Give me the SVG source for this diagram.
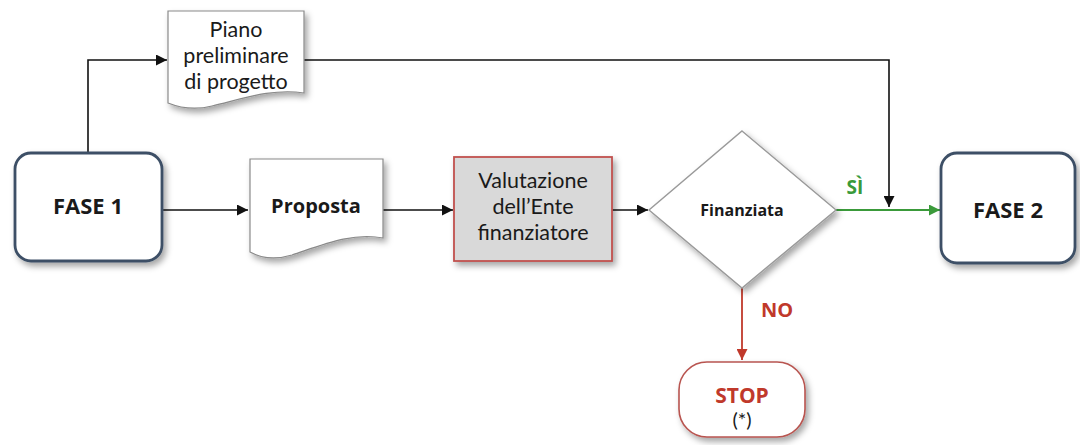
<svg xmlns="http://www.w3.org/2000/svg" width="1080" height="445" viewBox="0 0 1080 445">
<style>
.t{font-family:"Open Sans","Liberation Sans",sans-serif;text-anchor:middle;fill:#1a1a1a}
.r{font-family:Lato,"Open Sans","Liberation Sans",sans-serif;font-size:21.5px}
.b{font-weight:bold}
.c{fill:none;stroke:#111;stroke-width:1.6}
</style>
<defs>
<filter id="sh" x="-20%" y="-20%" width="150%" height="150%">
<feDropShadow dx="3" dy="4" stdDeviation="3" flood-color="#000" flood-opacity="0.35"/>
</filter>
<marker id="ak" viewBox="0 0 10 10" refX="10" refY="5" markerWidth="11" markerHeight="11" markerUnits="userSpaceOnUse" orient="auto">
<path d="M0,0 L10,5 L0,10 Z" fill="#111"/>
</marker>
<marker id="ag" viewBox="0 0 10 10" refX="10" refY="5" markerWidth="11" markerHeight="11" markerUnits="userSpaceOnUse" orient="auto">
<path d="M0,0 L10,5 L0,10 Z" fill="#3a9a3a"/>
</marker>
<marker id="ar" viewBox="0 0 10 10" refX="10" refY="5" markerWidth="11" markerHeight="11" markerUnits="userSpaceOnUse" orient="auto">
<path d="M0,0 L10,5 L0,10 Z" fill="#c0392b"/>
</marker>
</defs>
<rect width="1080" height="445" fill="#fff"/>

<g id="connectors">
<path class="c" d="M88,153 V60 H167" marker-end="url(#ak)"/>
<path class="c" d="M304,60 H889 V207" marker-end="url(#ak)"/>
<path class="c" d="M163,210 H248" marker-end="url(#ak)"/>
<path class="c" d="M383,210 H453" marker-end="url(#ak)"/>
<path class="c" d="M612,210 H648" marker-end="url(#ak)"/>
<path d="M836,210 H940" fill="none" stroke="#3a9a3a" stroke-width="1.8" marker-end="url(#ag)"/>
<path d="M742,288 V360" fill="none" stroke="#c0392b" stroke-width="1.8" marker-end="url(#ar)"/>
<text class="t b" x="855" y="194" font-size="19" style="fill:#3a9a3a">SÌ</text>
<text class="t b" x="777" y="317" font-size="20" style="fill:#c0392b">NO</text>
</g>

<g id="fase1">
<rect x="15" y="153" width="147" height="108" rx="16" fill="#fff" stroke="#3d4f66" stroke-width="2.8" filter="url(#sh)"/>
<text class="t b" x="88" y="214" font-size="22">FASE 1</text>
</g>

<g id="piano">
<path d="M168,11 H304 V93 C272,88 242,99 212,106 C192,111 178,107 168,103 Z" fill="#fff" stroke="#8a8a8a" stroke-width="1.2" filter="url(#sh)"/>
<text class="t r" x="236" y="37">Piano</text>
<text class="t r" x="236" y="63">preliminare</text>
<text class="t r" x="236" y="89">di progetto</text>
</g>

<g id="proposta">
<path d="M250,159 H383 V238 C352,232 322,245 292,255 C272,261 259,257 250,252 Z" fill="#fff" stroke="#8a8a8a" stroke-width="1.2" filter="url(#sh)"/>
<text class="t b" x="316" y="213" font-size="20">Proposta</text>
</g>

<g id="valutazione">
<rect x="454" y="157" width="158" height="104" fill="#d9d9d9" stroke="#c0504d" stroke-width="1.8" filter="url(#sh)"/>
<text class="t r" x="533" y="188">Valutazione</text>
<text class="t r" x="533" y="214">dell’Ente</text>
<text class="t r" x="533" y="240">finanziatore</text>
</g>

<g id="finanziata">
<path d="M742,131 L836,210 L742,288 L649,210 Z" fill="#fff" stroke="#9a9a9a" stroke-width="1.4" filter="url(#sh)"/>
<text class="t b" x="742" y="216" font-size="16">Finanziata</text>
</g>

<g id="fase2">
<rect x="941" y="153" width="134" height="110" rx="16" fill="#fff" stroke="#3d4f66" stroke-width="2.8" filter="url(#sh)"/>
<text class="t b" x="1008" y="218" font-size="22">FASE 2</text>
</g>

<g id="stop">
<rect x="679" y="362" width="126" height="75" rx="28" fill="#fff" stroke="#b85450" stroke-width="1.6" filter="url(#sh)"/>
<text class="t b" x="742" y="403" font-size="21" style="fill:#c0392b">STOP</text>
<text class="t r" x="742" y="427" style="font-size:20px">(*)</text>
</g>
</svg>
